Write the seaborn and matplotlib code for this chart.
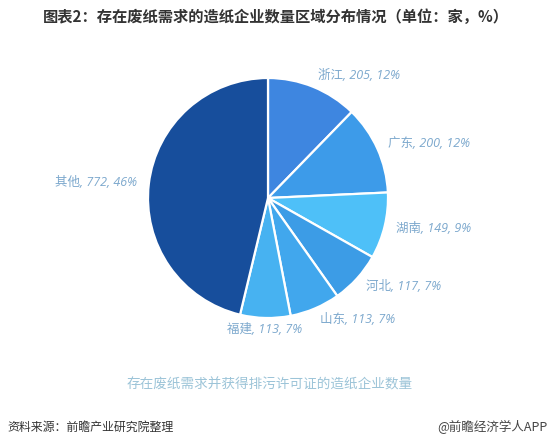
import matplotlib
matplotlib.use("Agg")
import matplotlib.pyplot as plt
import seaborn as sns

regions = ["浙江", "广东", "湖南", "河北", "山东", "福建", "其他"]
counts = [205, 200, 149, 117, 113, 113, 772]
shares = [12, 12, 9, 7, 7, 7, 46]
colors = ["#3e86e0", "#3d9be9", "#4ec0f8", "#3c9ce6", "#41a7ed", "#47b2f1", "#174e9c"]

sns.set_theme(style="white")
plt.rcParams["font.family"] = ["Noto Sans CJK SC", "DejaVu Sans"]

fig = plt.figure(figsize=(5.56, 4.46), dpi=100)
fig.patch.set_facecolor("white")
ax = fig.add_axes([148 / 556, 128 / 446, 240 / 556, 240 / 446])

labels = [f"{r}, {c}, {s}%" for r, c, s in zip(regions, counts, shares)]
wedges, texts = ax.pie(counts, labels=labels, colors=colors, startangle=90,
                       counterclock=False, labeldistance=1.1,
                       wedgeprops=dict(edgecolor="white", linewidth=1.6),
                       textprops=dict(color="#7ca8cd", fontsize=9,
                                      family=["Open Sans", "Noto Sans CJK SC", "DejaVu Sans"],
                                      style="italic"))
texts[5].set_ha("center")
ax.set_xlim(-1, 1)
ax.set_ylim(-1, 1)
ax.set_aspect("equal")
ax.axis("off")

fig.text(0.497, 1 - 17 / 446, "图表2：存在废纸需求的造纸企业数量区域分布情况（单位：家，%）",
         ha="center", va="center", fontsize=11, fontweight="bold", color="#333333")
fig.text(0.485, 1 - 384 / 446, "存在废纸需求并获得排污许可证的造纸企业数量",
         ha="center", va="center", fontsize=9.8, color="#9cc4d8")
fig.text(7 / 556, 1 - 427 / 446, "资料来源：前瞻产业研究院整理",
         ha="left", va="center", fontsize=8.6, color="#333333", style="italic")
fig.text(548 / 556, 1 - 427 / 446, "@前瞻经济学人APP",
         ha="right", va="center", fontsize=9, color="#444444")

fig.savefig("out.png", dpi=100, facecolor="white")
